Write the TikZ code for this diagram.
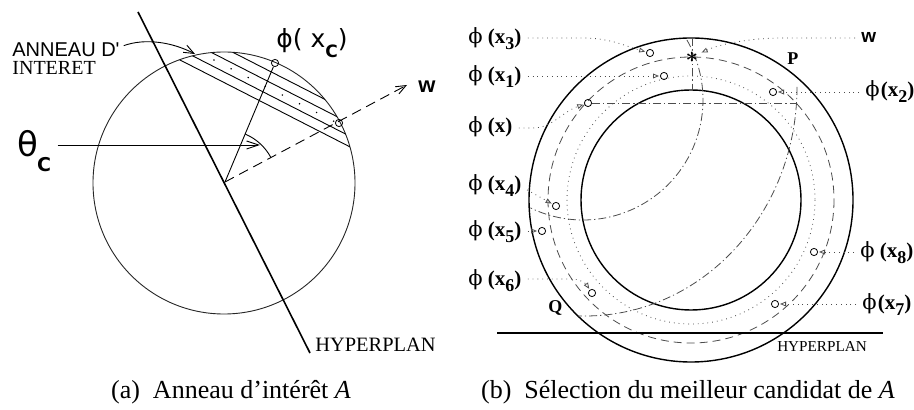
\documentclass[tikz,border=0pt]{standalone}
\usepackage{fontspec}
\setmainfont{Liberation Serif}
\setsansfont{Liberation Sans}
\newfontfamily\dejavu{DejaVu Sans}
\newfontfamily\dvserif{DejaVu Serif}
\usetikzlibrary{arrows.meta,calc}
\tikzset{
  pt/.style={circle,draw,line width=0.4pt,inner sep=0pt,minimum size=3.6pt},
  lbl/.style={inner sep=0pt,anchor=base west},
  bl/.style={font=\bfseries\fontsize{10.5}{10.5}\selectfont},
  thinl/.style={line width=0.45pt},
  dotcon/.style={dotted,black!70,line width=0.4pt,-{Triangle[open,length=3pt,width=2.4pt]},shorten <=3pt,shorten >=0.5pt},
  dashdot/.style={black!70,line width=0.4pt,dash pattern=on 4pt off 1.5pt on 0.6pt off 1.5pt},
  barb/.style={-{Straight Barb[length=5pt,width=4pt]}}
}
\newcommand\phig{{\mdseries\dvserif ϕ}}
\newcommand\phx[1]{\phig\ (x\raisebox{-0.55ex}{\fontsize{9}{9}\selectfont #1})}
\newcommand\phxn[1]{\phig\kern0.6pt(x\raisebox{-0.55ex}{\fontsize{9}{9}\selectfont #1})}
\begin{document}
\begin{tikzpicture}[x=0.5pt,y=-0.5pt]
\useasboundingbox (0,0) rectangle (914,410);
% ================= (a) =================
\coordinate (ca) at (224,183);
\draw[thinl,black!85] (ca) circle[radius=131];
\begin{scope}
  \clip (ca) circle[radius=131];
  \foreach \px/\py in {264.7/103.3,269.0/94.9,274.3/84.6,278.8/75.8}
    \draw[thinl] (\px,\py) ++(-178,-91) -- ++(356,182);
  \draw[line width=0.6pt,dash pattern=on 0.6pt off 9pt] (271.8,89.6) ++(-178,-91) -- ++(356,182);
\end{scope}
\coordinate (hpa1) at (138,12);
\coordinate (hpa2) at (310,353);
\draw[line width=0.8pt] (hpa1) -- (hpa2);
\node[lbl,font=\fontsize{10.2}{10}\selectfont] (hypa) at (315,352) {HYPERPLAN};
\coordinate (o) at (225,182);
\node[pt] (xc) at (275,63) {};
\node[pt] (xw) at (339,123) {};
\draw[thinl] (o) -- (xc);
\coordinate (wtip) at (407,85);
\draw[thinl,dash pattern=on 5pt off 3pt,barb] (o) -- (wtip);
\node[lbl,font=\sffamily\bfseries\fontsize{11}{11}\selectfont] (wa) at (418,93) {w};
\draw[thinl] (o) ++(-67:52) arc[start angle=-67,end angle=-28,radius=52];
\node[lbl] (th) at (17,157) {\dejavu\fontsize{17}{17}\selectfont θ\kern-0.5pt\raisebox{-7.5pt}{\fontsize{9.5}{9.5}\selectfont\bfseries C}};
\coordinate (thtip) at (260,145);
\draw[thinl,-{Straight Barb[length=6pt,width=4pt]},shorten <=3pt] ([yshift=6pt]th.base east) -- (thtip);
\node[lbl,font=\sffamily\fontsize{10}{10}\selectfont] (ann) at (12,57) {ANNEAU D\textquotesingle};
\node[lbl,font=\fontsize{10}{10}\selectfont] (int) at (12,75) {INTERET};
\coordinate (anntip) at (195,54);
\draw[thinl,barb,shorten <=2pt] ([yshift=5pt]ann.base east) .. controls (145,38) and (172,42) .. (anntip);
\node[lbl] (phc) at (276,48) {\dejavu\fontsize{12.5}{12}\selectfont ϕ( x\raisebox{-5pt}{\fontsize{8.5}{8}\selectfont\bfseries C})};
\node[anchor=base,inner sep=0pt,font=\fontsize{13}{13}\selectfont] (capa) at (231,399) {(a)\enspace Anneau d’intérêt \textit{A}};
% ================= (b) =================
\coordinate (cb) at (691,200);
\draw[line width=0.7pt] (cb) circle[radius=162];
\draw[line width=0.7pt] (cb) circle[radius=110];
\draw[black!70,line width=0.4pt,dash pattern=on 4pt off 2.5pt] (cb) circle[radius=143];
\draw[black!70,line width=0.4pt,dotted] (cb) circle[radius=124];
\coordinate (hpb1) at (497,333);
\coordinate (hpb2) at (883,333);
\draw[line width=1.3pt] (hpb1) -- (hpb2);
\node[anchor=base,inner sep=0pt,font=\fontsize{7.6}{8}\selectfont] (hypb) at (822,352) {HYPERPLAN};
% points
\node[pt] (c3) at (650,53) {};
\node[pt] (c1) at (664,76) {};
\node[pt] (c2) at (773,92) {};
\node[pt] (c0) at (588,103) {};
\node[pt] (c4) at (556,206) {};
\node[pt] (c5) at (542,231) {};
\node[pt] (c6) at (592,293) {};
\node[pt] (c7) at (775,304) {};
\node[pt] (c8) at (814,252) {};
% dash-dot construction lines
\coordinate (vt) at (692,38);
\coordinate (vb) at (692,91);
\draw[dashdot] (vt) -- (vb);
\coordinate (pP) at (797,87);
\coordinate (hr) at (797,103);
\draw[dashdot] (c0) -- (hr);
\draw[dashdot] (686.9,40) arc[start angle=-30,end angle=116,radius=120];
\coordinate (qq) at (578,316);
\draw[dashdot] (pP) arc[start angle=0,end angle=90,x radius=212,y radius=229] -- (qq);
\node[font=\boldmath\fontsize{11}{11}\selectfont,inner sep=1pt] (star) at (692,57) {$\ast$};
\node[lbl,font=\bfseries\fontsize{9}{9}\selectfont] (P) at (787,65) {P};
\node[lbl,font=\bfseries\fontsize{9}{9}\selectfont] (Q) at (548,313) {Q};
% labels
\node[lbl,bl] (l3) at (468,44) {\phx{3}};
\node[lbl,bl] (l1) at (468,82) {\phx{1}};
\node[lbl,bl] (l0) at (468,133) {\phig\ (x)};
\node[lbl,bl] (l4) at (468,191) {\phx{4}};
\node[lbl,bl] (l5) at (468,237) {\phx{5}};
\node[lbl,bl] (l6) at (468,286) {\phx{6}};
\node[lbl,bl] (l2) at (865,97) {\phxn{2}};
\node[lbl,bl] (l8) at (860,258) {\phx{8}};
\node[lbl,bl] (l7) at (862,310) {\phxn{7}};
\node[lbl,font=\sffamily\bfseries\fontsize{9.5}{9.5}\selectfont] (lw) at (861,43) {w};
% connectors
\draw[dotcon] ([yshift=3pt]l3.base east) -- (583,38) .. controls (610,38) and (625,46) .. (c3);
\draw[dotcon] ([yshift=2.5pt]lw.base west) -- (783,38) .. controls (750,38) and (720,44) .. (star);
\draw[dotcon] ([yshift=3pt]l1.base east) -- (c1);
\draw[dotcon] ([yshift=2.5pt]l0.base east) -- (533,128) .. controls (552,128) and (562,112) .. (c0);
\draw[dotcon] ([yshift=2pt]l4.base east) -- (c4);
\draw[dotcon] ([yshift=3pt]l5.base east) -- (c5);
\draw[dotcon] ([yshift=3.5pt]l6.base east) -- (573,279) .. controls (580,279) and (586,284) .. (c6);
\draw[dotcon] ([yshift=2.5pt]l2.base west) -- (c2);
\draw[dotcon] ([yshift=3pt]l8.base west) -- (c8);
\draw[dotcon] ([yshift=3pt]l7.base west) -- (c7);
\node[anchor=base,inner sep=0pt,font=\fontsize{13}{13}\selectfont] (capb) at (688,399) {(b)\enspace Sélection du meilleur candidat de \textit{A}};
\end{tikzpicture}
\end{document}
